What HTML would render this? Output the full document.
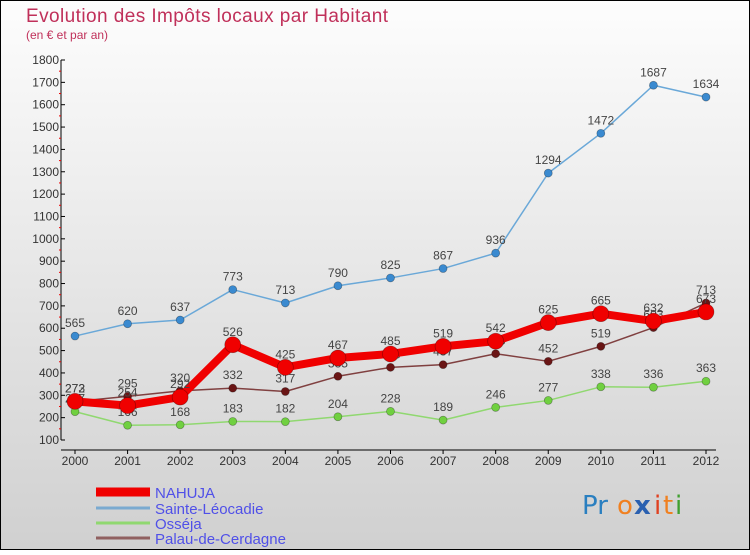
<!DOCTYPE html>
<html><head><meta charset="utf-8"><style>
html,body{margin:0;padding:0}
body{width:750px;height:550px;overflow:hidden;font-family:"Liberation Sans",sans-serif}
</style></head><body>
<svg id="chart" width="750" height="550" xmlns="http://www.w3.org/2000/svg">
<defs><linearGradient id="bg" x1="0" y1="0" x2="0" y2="1"><stop offset="0" stop-color="#fdfdfd"/><stop offset="1" stop-color="#d0d0d0"/></linearGradient></defs>
<rect x="0.5" y="0.5" width="749" height="549" fill="url(#bg)" stroke="#000" stroke-width="1"/>
<text x="26" y="22" font-size="19" fill="#c0305a" textLength="362">Evolution des Impôts locaux par Habitant</text>
<text x="26" y="39" font-size="12" fill="#c0305a">(en € et par an)</text>
<g id="axes"></g>
<g id="series"></g>
<g id="legend"></g>
<g font-size="26" font-family="'DejaVu Sans',sans-serif">
<text x="582" y="514" fill="#2a7fc0">Pr</text><text x="617" y="514" fill="#f08020">o</text><text x="634" y="514" fill="#2a60b0" font-weight="bold">x</text><text x="654" y="514" fill="#e04020">i</text><text x="663" y="514" fill="#f08020">t</text><text x="675" y="514" fill="#40a030">i</text>
</g>
</svg>
<script>
const years=[2000,2001,2002,2003,2004,2005,2006,2007,2008,2009,2010,2011,2012];
const yTicks=[100,200,300,400,500,600,700,800,900,1000,1100,1200,1300,1400,1500,1600,1700,1800];
const nahuja=[273,254,292,526,425,467,485,519,542,625,665,632,673];
const sainte=[565,620,637,773,713,790,825,867,936,1294,1472,1687,1634];
const osseja=[227,166,168,183,182,204,228,189,246,277,338,336,363];
const palau=[272,295,320,332,317,385,425,437,486,452,519,603,713];
const seriesNames=["NAHUJA","Sainte-Léocadie","Osséja","Palau-de-Cerdagne"];
const NS="http://www.w3.org/2000/svg";
const x0=75,x1=706,y0=440,y1=60,vmin=100,vmax=1800;
function xs(i){return x0+(x1-x0)*i/(years.length-1);}
function ys(v){return y0-(v-vmin)*(y0-y1)/(vmax-vmin);}
function mk(tag,attrs,parent){const e=document.createElementNS(NS,tag);for(const k in attrs)e.setAttribute(k,attrs[k]);parent.appendChild(e);return e;}
const axes=document.getElementById('axes');
let ax=mk('line',{x1:x0-14,y1:y0,x2:x0-14,y2:y1,stroke:'#000'},axes);


yTicks.forEach((t,i)=>{
 const y=ys(t);
 mk('line',{x1:x0-14,y1:y,x2:x0-10,y2:y,stroke:'#000'},axes);
 const tx=mk('text',{x:x0-16,y:y+4,'text-anchor':'end','font-size':'12',fill:'#333'},axes);
 tx.textContent=t;
 
 
 if(i<yTicks.length-1){const ym=ys(t+50);mk('line',{x1:x0-16,y1:ym,x2:x0-14,y2:ym,stroke:'#e00'},axes);}
});
let xa=mk('line',{x1:x0-14,y1:y0+10,x2:x1+10,y2:y0+10,stroke:'#000'},axes);


years.forEach((yr,i)=>{
 const x=xs(i);
 mk('line',{x1:x,y1:y0+10,x2:x,y2:y0+14,stroke:'#000'},axes);
 const tx=mk('text',{x:x,y:y0+25,'text-anchor':'middle','font-size':'12',fill:'#333'},axes);
 tx.textContent=yr;
 
 
});
const sg=document.getElementById('series');
function drawSeries(data,name,color,dot,width,r){
 const g=mk('g',{},sg);
 
 
 const pts=data.map((v,i)=>xs(i)+','+ys(v)).join(' ');
 const pl=mk('polyline',{points:pts,fill:'none',stroke:color,'stroke-width':width,'stroke-linejoin':'round'},g);
 
 
 data.forEach((v,i)=>{
  const c=mk('circle',{cx:xs(i),cy:ys(v),r:r,fill:dot,stroke:'rgba(0,0,0,0.35)','stroke-width':0.7},g);
  
  
  const t=mk('text',{x:xs(i),y:ys(v)-9,'text-anchor':'middle','font-size':'12',fill:'#444'},g);
  t.textContent=v;
  
  
 });
}
drawSeries(osseja,'osseja','#90d870','#70d040',1.5,4);
drawSeries(palau,'palau','#804040','#6a1515',1.5,4);
drawSeries(sainte,'sainte-leocadie','#6aa8d8','#3a8ad0',1.5,4);
drawSeries(nahuja,'nahuja','#f00000','#f00000',8,8);
const lg=document.getElementById('legend');
const lcol=['#f00000','#7aaad0','#90d870','#906060'];
const lw=[9,3,3,3];
const ly=[492,508,523,538];
seriesNames.forEach((n,i)=>{
 const l=mk('line',{x1:96,y1:ly[i],x2:150,y2:ly[i],stroke:lcol[i],'stroke-width':lw[i]},lg);
 
 
 const t=mk('text',{x:155,y:ly[i]+6,'font-size':'15',fill:'#5050e8'},lg);
 t.textContent=n;
 
 
});
</script>
</body></html>
